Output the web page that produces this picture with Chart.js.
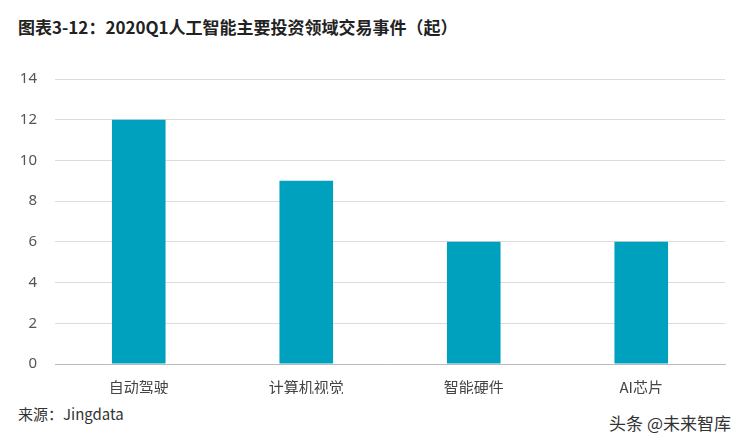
<!DOCTYPE html>
<html><head><meta charset="utf-8">
<script src="https://cdn.jsdelivr.net/npm/chart.js@4"></script>
<style>
body{margin:0;width:745px;height:445px;position:relative;background:#fff;font-family:"Noto Sans CJK SC","Noto Sans",sans-serif;overflow:hidden}
#t{position:absolute;left:18px;top:14px;font-size:17px;font-weight:bold;color:#222}
#s{position:absolute;left:18px;top:403px;font-size:15px;color:#333}
#w{position:absolute;right:14px;top:410px;font-size:17px;color:#333}
canvas{position:absolute;left:0;top:0}
</style></head><body>
<div id="t">图表3-12：2020Q1人工智能主要投资领域交易事件（起）</div>
<div id="s">来源：Jingdata</div>
<div id="w">头条 @未来智库</div>
<canvas id="c" width="745" height="445"></canvas>
<script>
const categories = ["自动驾驶", "计算机视觉", "智能硬件", "AI芯片"];
const events = [12, 9, 6, 6];
const yTicks = [0, 2, 4, 6, 8, 10, 12, 14];

new Chart(document.getElementById("c"), {
  type: "bar",
  data: {
    labels: categories,
    datasets: [{ data: events, backgroundColor: "#00a0bf", barPercentage: 0.32, categoryPercentage: 1 }],
  },
  options: {
    responsive: false,
    animation: false,
    layout: { padding: { top: 79, bottom: 51, right: 20, left: 0 } },
    plugins: { legend: { display: false }, tooltip: { enabled: false } },
    scales: {
      y: {
        min: 0, max: 14,
        afterFit: (s) => { s.width = 55; },
        afterBuildTicks: (s) => { s.ticks = yTicks.map((v) => ({ value: v })); },
        grid: { color: "#dcdcdc", drawTicks: false },
        border: { display: false },
        ticks: { color: "#555", font: { size: 15, family: "Noto Sans" }, padding: 18 },
      },
      x: {
        afterFit: (s) => { s.height = 30; },
        grid: { display: false },
        border: { color: "#bbb" },
        ticks: { color: "#444", font: { size: 15, family: "Noto Sans CJK SC" }, padding: 6 },
      },
    },
  },
});
</script>
</body></html>
